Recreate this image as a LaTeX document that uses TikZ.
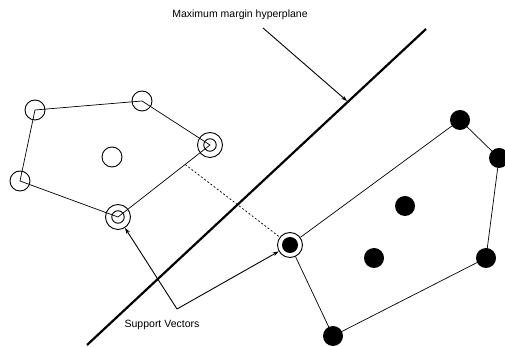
\documentclass[tikz,border=0pt]{standalone}
\usepackage{fontspec}
\setmainfont{Liberation Sans}
\usetikzlibrary{arrows.meta,calc}
\begin{document}
\begin{tikzpicture}[x=1pt,y=1pt,
  opendot/.style={circle,draw,line width=0.9pt,minimum size=20pt,inner sep=0pt},
  svout/.style={circle,draw,line width=0.9pt,minimum size=25pt,inner sep=0pt},
  svin/.style={circle,draw,line width=0.9pt,minimum size=12.5pt,inner sep=0pt},
  fulldot/.style={circle,fill=black,minimum size=20pt,inner sep=0pt},
  svfull/.style={circle,fill=black,minimum size=16pt,inner sep=0pt},
  hull/.style={line width=0.7pt},
  lbl/.style={font=\fontsize{10.5}{12}\selectfont,inner sep=1pt},
  pointer/.style={line width=0.9pt,-{Stealth[length=6pt,width=4pt]}}
]
\useasboundingbox (0,0) rectangle (505,347);
% hyperplane
\coordinate (hpA) at (87,2);
\coordinate (hpB) at (426,318);
\draw[line width=2.2pt] (hpA) -- (hpB);
% negative class (open circles)
\node[opendot] (A) at (35,237) {};
\node[opendot] (B) at (142,246) {};
\node[svout] (C) at (210,202) {};
\node[svin] (Cin) at (210,202) {};
\node[svout] (D) at (118,130) {};
\node[svin] (Din) at (118,130) {};
\node[opendot] (E) at (20,166) {};
\node[opendot] (M) at (112,190) {};
\draw[hull] (A.center) -- (B.center) -- (C.center) -- (D.center) -- (E.center) -- cycle;
% positive class (filled dots)
\node[fulldot] (F) at (460,227) {};
\node[fulldot] (G) at (499,189) {};
\node[fulldot] (H) at (486,89) {};
\node[fulldot] (I) at (333,11) {};
\node[svout] (J) at (290,102) {};
\node[svfull] (Jin) at (290,102) {};
\node[fulldot] (P1) at (405,141) {};
\node[fulldot] (P2) at (374,89) {};
\draw[hull] (J) -- (F.center) -- (G.center) -- (H.center) -- (I.center) -- (J);
% margin (dashed)
\coordinate (foot) at ($(C)!0.27!(D)$);
\draw[line width=0.7pt,dash pattern=on 2pt off 2pt] (foot) -- (J);
% labels
\node[lbl] (mm) at (240,332) {Maximum margin hyperplane};
\coordinate (mmstart) at (263,319);
\coordinate (mmend) at (347,246);
\draw[pointer] (mmstart) -- (mmend);
\node[lbl] (sv) at (162,22) {Support Vectors};
\coordinate (fork) at (177,38);
\draw[pointer] (fork) -- (D);
\draw[pointer] (fork) -- (J);
\end{tikzpicture}
\end{document}
